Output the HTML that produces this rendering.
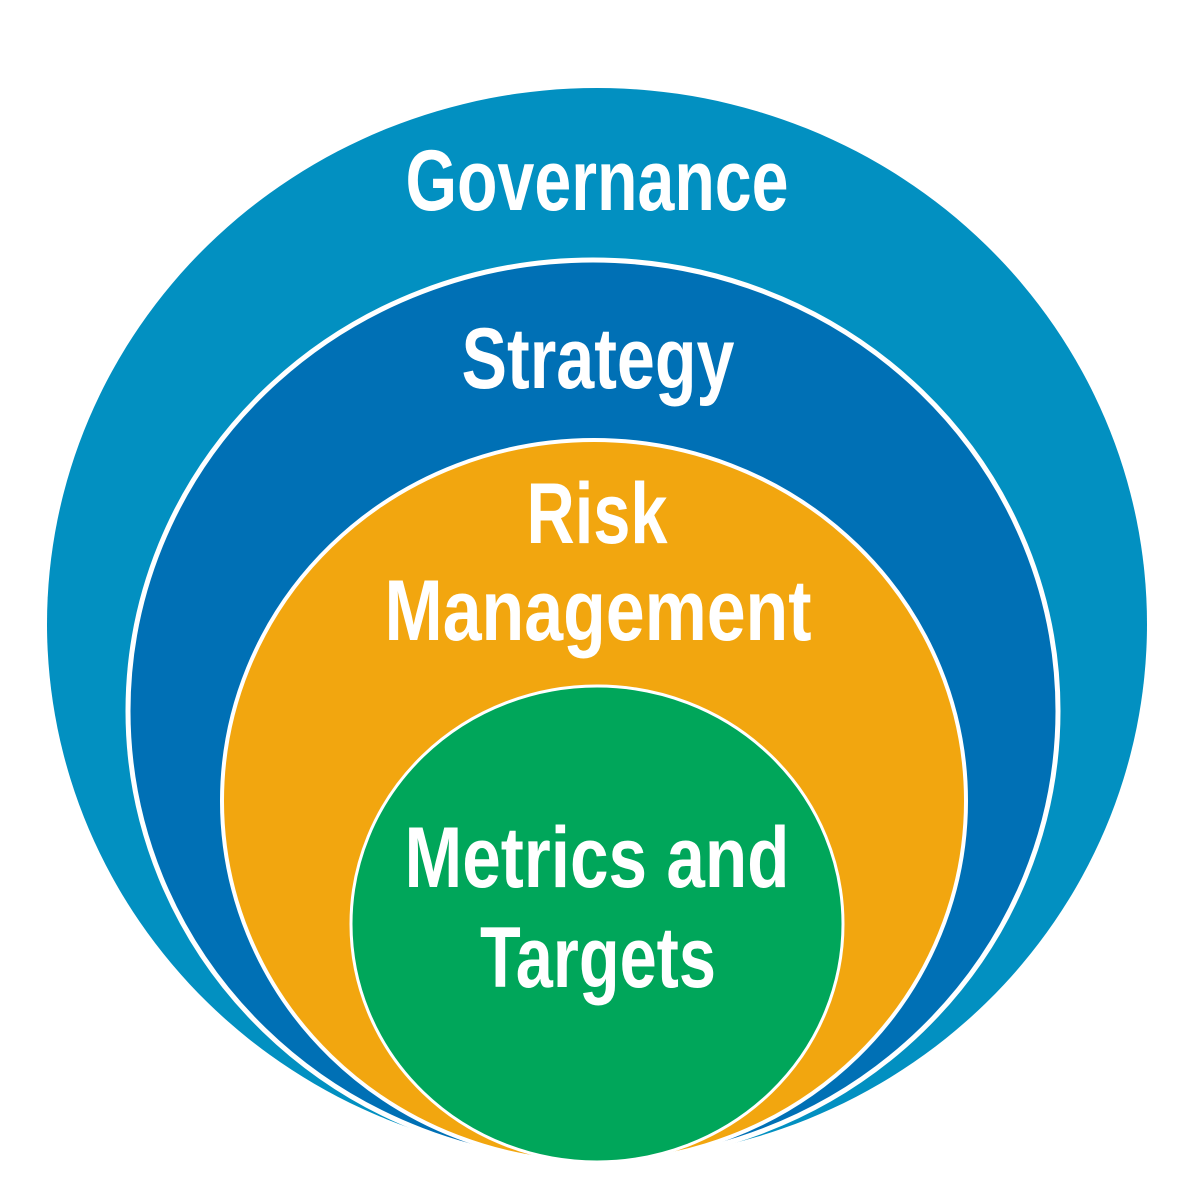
<!DOCTYPE html>
<html><head><meta charset="utf-8"><style>
html,body{margin:0;padding:0;background:#fff;}
svg{display:block;}
text{font-family:"Liberation Sans Narrow","Liberation Sans",sans-serif;font-weight:bold;fill:#fff;text-anchor:middle;}
</style></head><body>
<svg width="1181" height="1181" viewBox="0 0 1181 1181" xmlns="http://www.w3.org/2000/svg">
<ellipse cx="597" cy="624" rx="550" ry="536" fill="#0290c1"/>
<ellipse cx="593" cy="711" rx="465" ry="451" fill="#0070b5" stroke="#fff" stroke-width="5"/>
<ellipse cx="594" cy="801" rx="372" ry="361" fill="#f2a60f" stroke="#fff" stroke-width="4"/>
<ellipse cx="597" cy="924" rx="246" ry="238" fill="#00a65a" stroke="#fff" stroke-width="3"/>
<text x="597" y="210" font-size="86" textLength="383" lengthAdjust="spacingAndGlyphs">Governance</text>
<text x="598" y="388" font-size="86" textLength="273" lengthAdjust="spacingAndGlyphs">Strategy</text>
<text x="597" y="543" font-size="86" textLength="141" lengthAdjust="spacingAndGlyphs">Risk</text>
<text x="598" y="640" font-size="86" textLength="427" lengthAdjust="spacingAndGlyphs">Management</text>
<text x="597" y="887" font-size="86" textLength="385" lengthAdjust="spacingAndGlyphs">Metrics and</text>
<text x="598" y="987" font-size="86" textLength="236" lengthAdjust="spacingAndGlyphs">Targets</text>
</svg>
</body></html>
